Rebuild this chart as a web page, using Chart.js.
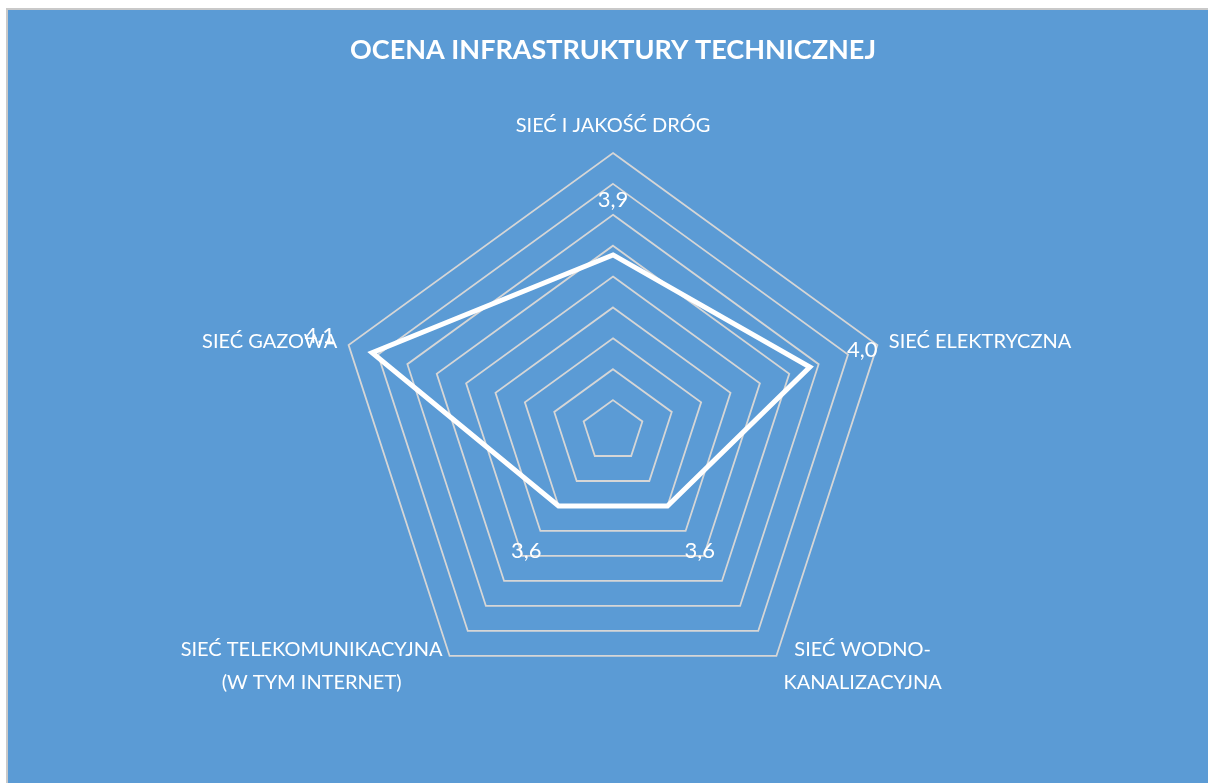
<!DOCTYPE html>
<html>
<head>
<meta charset="utf-8">
<script src="https://cdn.jsdelivr.net/npm/chart.js@4"></script>
<style>
  html, body { margin: 0; padding: 0; background: #fff; }
  #frame {
    position: absolute; left: 6px; top: 8px;
    width: 1202px; height: 775px;
    border-top: 2px solid #c9c9c9; border-left: 2px solid #c9c9c9;
    background: #5b9bd5;
  }
  #chart { display: block; }
</style>
</head>
<body>
<div id="frame"><canvas id="chart" width="1200" height="773"></canvas></div>
<script>
const chartTitle = 'OCENA INFRASTRUKTURY TECHNICZNEJ';
const categories = [
    ['SIEĆ I JAKOŚĆ DRÓG'],
    ['SIEĆ ELEKTRYCZNA'],
    ['SIEĆ WODNO-', 'KANALIZACYJNA'],
    ['SIEĆ TELEKOMUNIKACYJNA', '(W TYM INTERNET)'],
    ['SIEĆ GAZOWA']
];
const ratings = [3.87, 3.97, 3.60, 3.60, 4.12];
const scaleMin = 3.3;
const scaleMax = 4.2;
const scaleStep = 0.1;

const FONT = 'Lato, "Open Sans", sans-serif';

// etykiety osi i wartości rysujemy sami, żeby ułożyć je jak w Excelu
const radarLabels = {
    id: 'radarLabels',
    afterDatasetsDraw(chart) {
        const scale = chart.scales.r;
        const ctx = chart.ctx;
        const R = scale.drawingArea;
        ctx.save();
        ctx.fillStyle = '#ffffff';

        // nazwy kategorii
        ctx.font = '20px ' + FONT;
        ctx.textBaseline = 'middle';
        const lineH = 33;
        categories.forEach((lines, i) => {
            const p = scale.getPointPosition(i, R + 12);
            const cos = Math.cos(p.angle);
            const sin = Math.sin(p.angle);
            const w = Math.max(...lines.map(l => ctx.measureText(l).width));
            let cx = p.x;
            if (cos > 0.1) cx = p.x + w / 2;
            else if (cos < -0.1) cx = p.x - w / 2;
            let cy = p.y;
            if (sin < -0.9) cy = p.y - 15;
            const top = cy - (lines.length - 1) * lineH / 2;
            ctx.textAlign = 'center';
            lines.forEach((l, k) => ctx.fillText(l, cx, top + k * lineH));
        });

        // wartości
        ctx.font = '22px ' + FONT;
        ctx.textAlign = 'center';
        ratings.forEach((v, i) => {
            const d = scale.getDistanceFromCenterForValue(v) + 55;
            const p = scale.getPointPosition(i, d);
            ctx.fillText(v.toFixed(1).replace('.', ','), p.x, p.y);
        });
        ctx.restore();
    }
};

new Chart(document.getElementById('chart'), {
    type: 'radar',
    data: {
        labels: categories,
        datasets: [{
            label: 'Ocena',
            data: ratings,
            borderColor: '#ffffff',
            borderWidth: 5,
            borderJoinStyle: 'miter',
            pointRadius: 0,
            pointHoverRadius: 0,
            fill: false,
            tension: 0
        }]
    },
    options: {
        responsive: false,
        animation: false,
        layout: { padding: { left: 10, right: 0, top: 0, bottom: 73.5 } },
        plugins: {
            legend: { display: false },
            tooltip: { enabled: false },
            title: {
                display: true,
                text: chartTitle,
                color: '#ffffff',
                font: { family: FONT, size: 27, weight: 'bold' },
                padding: { top: 23.8, bottom: 87 }
            }
        },
        scales: {
            r: {
                min: scaleMin,
                max: scaleMax,
                ticks: { display: false, stepSize: scaleStep },
                grid: { color: '#d6d6d6', lineWidth: 1.8 },
                angleLines: { display: false },
                pointLabels: { display: false }
            }
        }
    },
    plugins: [radarLabels]
});
</script>
</body>
</html>
